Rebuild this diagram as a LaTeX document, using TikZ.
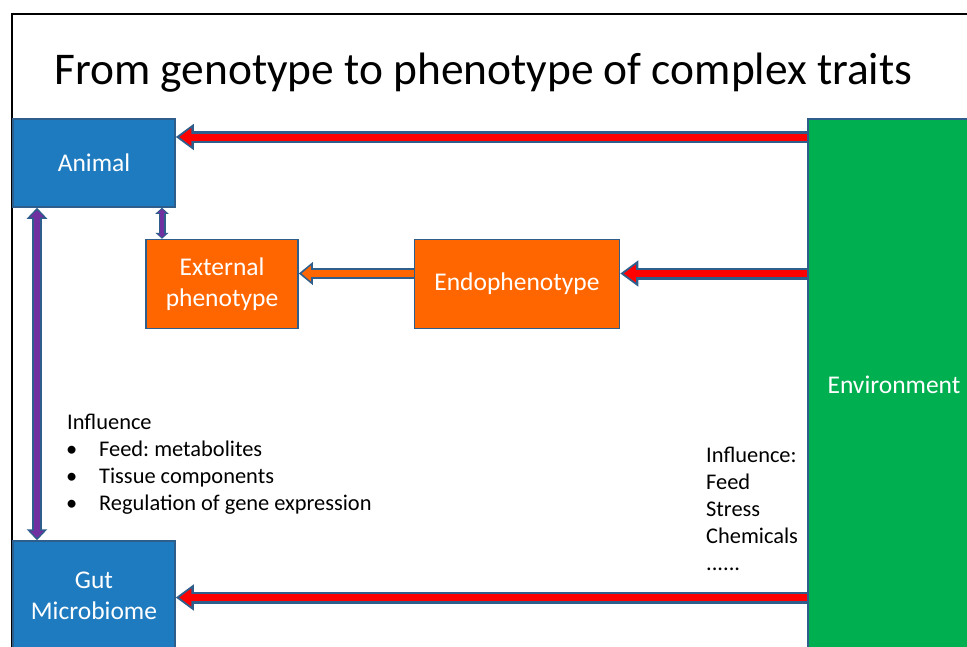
\documentclass[tikz,border=0pt]{standalone}
\usepackage{fontspec}
\setmainfont{Carlito}
\usepackage{tikz}
\usepackage{xcolor}
\usetikzlibrary{arrows.meta}
\definecolor{edgeblue}{HTML}{2E5E8C}
\definecolor{animalblue}{HTML}{1F7BBF}
\definecolor{phenoorange}{HTML}{FF6600}
\definecolor{envgreen}{HTML}{00B050}
\definecolor{arrowred}{HTML}{FF0000}
\definecolor{linkpurple}{HTML}{7030A0}
\frenchspacing

\begin{document}
\begin{tikzpicture}[x=1pt,y=-1pt,every node/.style={font=\fontsize{22.4}{27}\selectfont,inner sep=0pt},
  box/.style={draw=edgeblue,line width=1.5pt,text=white,align=center,inner sep=0pt,
    font=\fontsize{25.5}{30.5}\selectfont},
  redarrow/.style={draw=arrowred,line width=7pt,-{Triangle[length=12pt,width=17pt]},shorten >=3.5pt,
    preaction={draw=edgeblue,line width=12pt,-{Triangle[length=18pt,width=25pt]},shorten >=0pt}},
  orangearrow/.style={draw=phenoorange,line width=6.5pt,-{Triangle[length=9pt,width=15pt]},shorten >=3pt,
    preaction={draw=edgeblue,line width=11pt,-{Triangle[length=14pt,width=22pt]},shorten >=0pt}},
  purplearrow/.style={draw=linkpurple,line width=6pt,{Triangle[length=7pt,width=14pt]}-{Triangle[length=7pt,width=14pt]},
    shorten >=2.5pt,shorten <=2.5pt,
    preaction={draw=edgeblue,line width=10pt,{Triangle[length=11pt,width=20pt]}-{Triangle[length=11pt,width=20pt]},
    shorten >=0pt,shorten <=0pt}},
  smallpurple/.style={draw=linkpurple,line width=3.5pt,{Triangle[length=3.5pt,width=8pt]}-{Triangle[length=3.5pt,width=8pt]},
    shorten >=1.5pt,shorten <=1.5pt,
    preaction={draw=edgeblue,line width=7pt,{Triangle[length=6pt,width=13pt]}-{Triangle[length=6pt,width=13pt]},
    shorten >=0pt,shorten <=0pt}}]
\useasboundingbox (0,0) rectangle (967,646);
\clip (0,0) rectangle (967,646);
\fill[white] (0,0) rectangle (967,646);
% frame and title
\draw[line width=1.2pt] (12,660) -- (12,14) -- (980,14);
\node[anchor=base west,font=\fontsize{45.4}{54}\selectfont] (title) at (54,84) {From genotype to phenotype of complex traits};
% boxes
\node[box,fill=animalblue,minimum width=162,minimum height=88] (animal) at (94,163) {Animal};
\node[box,fill=phenoorange,minimum width=152,minimum height=89] (ext) at (222,284) {External\\phenotype};
\node[box,fill=phenoorange,minimum width=205,minimum height=89] (endo) at (517,284) {Endophenotype};
\node[box,fill=envgreen,minimum width=172,minimum height=532] (env) at (894,385) {Environment};
\node[box,fill=animalblue,minimum width=162,minimum height=110] (gut) at (94,596) {Gut\\Microbiome};
% arrows
\coordinate (a1) at ([yshift=26pt]animal.east);
\coordinate (a2) at ([yshift=10.5pt]endo.east);
\coordinate (a3) at ([yshift=10.5pt]endo.west);
\coordinate (a4) at ([yshift=-1.5pt]gut.east);
\coordinate (p1) at ([xshift=-57pt]animal.south);
\coordinate (p2) at ([xshift=-60pt]ext.north);
\draw[redarrow] (a1 -| env.west) -- (a1);
\draw[redarrow] (a2 -| env.west) -- (a2);
\draw[orangearrow] (a3) -- (a3 -| ext.east);
\draw[redarrow] (a4 -| env.west) -- (a4);
\draw[purplearrow] (p1) -- (p1 |- gut.north);
\draw[smallpurple] (p2 |- animal.south) -- (p2);
% influence texts
\node[anchor=base west] (gutinfl) at (67,429) {Influence};
\foreach \txt [count=\i] in {Feed: metabolites,Tissue components,Regulation of gene expression}{
  \node[anchor=base west] (bul\i) at (66,429+27*\i) {•};
  \node[anchor=base west] (item\i) at (99,429+27*\i) {\txt};
}
\node[anchor=base west] (envinfl) at (706,462) {Influence:};
\foreach \txt [count=\i] in {Feed,Stress,Chemicals}{
  \node[anchor=base west] (envitem\i) at (706,462+27*\i) {\txt};
}
\node[anchor=base west] (envdots) at (706,570) {......};
\end{tikzpicture}
\end{document}
